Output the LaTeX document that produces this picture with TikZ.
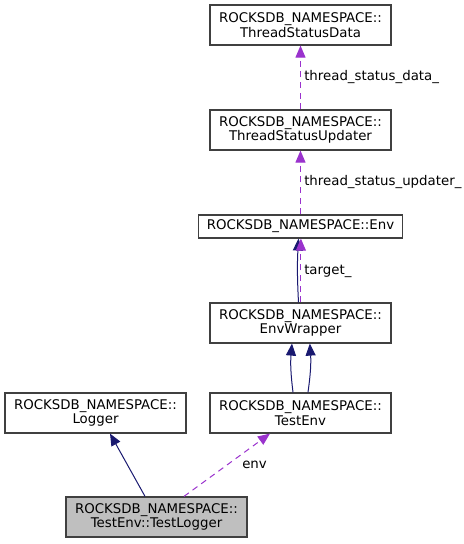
\documentclass[tikz,border=0pt]{standalone}
\usepackage{fontspec}
\setmainfont{DejaVu Sans}
\usetikzlibrary{arrows.meta}
\definecolor{edgeblue}{HTML}{191970}
\definecolor{edgepurple}{HTML}{9A32CD}
\definecolor{boxborder}{HTML}{404040}
\definecolor{boxgray}{HTML}{BFBFBF}
\tikzset{
  box/.style={draw=boxborder, line width=0.9pt, fill=white, align=center, inner sep=0pt,
    minimum width=135.75pt, minimum height=30pt, font=\fontsize{10}{11}\selectfont},
  inherit/.style={draw=edgeblue, line width=0.75pt, -{Triangle[length=9pt,width=7.5pt]}},
  usage/.style={draw=edgepurple, line width=0.75pt, dash pattern=on 4.5pt off 3.5pt, -{Triangle[length=9pt,width=7.5pt]}},
  lbl/.style={anchor=west, inner sep=0pt, font=\fontsize{10}{11}\selectfont}
}
\begin{document}
\begin{tikzpicture}[x=0.75pt, y=-0.75pt]
\useasboundingbox (0,0) rectangle (464,544);
\node[box] (tsd) at (300.5,25) {ROCKSDB\_NAMESPACE::\\ThreadStatusData};
\node[box] (tsu) at (300.5,130) {ROCKSDB\_NAMESPACE::\\ThreadStatusUpdater};
\node[box, minimum width=153pt, minimum height=17.25pt] (env) at (300.5,226.5) {ROCKSDB\_NAMESPACE::Env};
\node[box] (ew) at (300.5,323) {ROCKSDB\_NAMESPACE::\\EnvWrapper};
\node[box] (te) at (300.5,413) {ROCKSDB\_NAMESPACE::\\TestEnv};
\node[box] (lg) at (95.5,413) {ROCKSDB\_NAMESPACE::\\Logger};
\node[box, fill=boxgray] (tl) at (156.5,517) {ROCKSDB\_NAMESPACE::\\TestEnv::TestLogger};

\draw[usage] (tsu.north) -- (tsd.south);
\node[lbl] (l1) at (304,77) {thread\_status\_data\_};
\draw[usage] (env.north) -- (tsu.south);
\node[lbl] (l2) at (304,182) {thread\_status\_updater\_};
\draw[inherit] ([xshift=-1.5pt]ew.north) to[bend left=3] ([xshift=-1.5pt]env.south);
\draw[usage] ([xshift=0.3pt]ew.north) -- ([xshift=0.3pt]env.south);
\node[lbl] (l3) at (304,271) {target\_};
\draw[inherit] ([xshift=-5.6pt]te.north) to[bend left=6] ([xshift=-6.4pt]ew.south);
\draw[inherit] ([xshift=5.6pt]te.north) to[bend right=6] ([xshift=7pt]ew.south);
\draw[inherit] ([xshift=-8.6pt]tl.north) -- ([xshift=10.9pt]lg.south);
\draw[usage] ([xshift=20.6pt]tl.north) -- ([xshift=-22.9pt]te.south);
\node[lbl] (l4) at (242,465) {env};
\end{tikzpicture}
\end{document}
